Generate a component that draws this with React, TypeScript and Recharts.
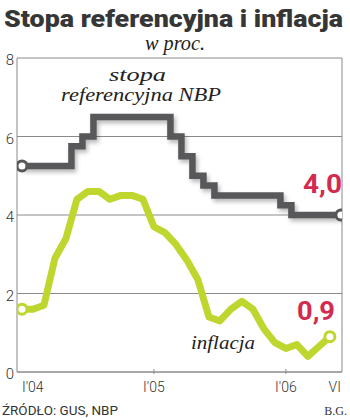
import React from 'react';
import { LineChart, Line, XAxis, YAxis, CartesianGrid, ReferenceLine } from 'recharts';

const monthIndex = [0,1,2,3,4,5,6,7,8,9,10,11,12,13,14,15,16,17,18,19,20,21,22,23,24,25,26,27,28,29];
const stopaRef = [5.25,5.25,5.25,5.25,5.25,5.75,6.0,6.5,6.5,6.5,6.5,6.5,6.5,6.5,6.0,5.5,5.0,4.75,4.5,4.5,4.5,4.5,4.5,4.5,4.25,4.0,4.0,4.0,4.0,4.0];
const inflacja: (number | null)[] = [1.6,1.6,1.7,2.9,3.4,4.4,4.6,4.6,4.4,4.5,4.5,4.4,3.7,3.55,3.25,2.85,2.35,1.4,1.3,1.6,1.8,1.6,1.1,0.75,0.6,0.7,0.4,0.65,0.9,null];
const xTicks = [0, 12, 24, 29];
const xTickLabels = ["I'04", "I'05", "I'06", 'VI'];
const yTicks = [0, 2, 4, 6, 8];

const data = monthIndex.map((m, i) => ({ m, stopa: stopaRef[i], infl: inflacja[i] }));

const GREY = '#58585a';
const GREEN = '#bfd62f';
const RED = '#d32a50';
const GRID = '#8a8a8a';

const lastIndex = (arr: (number | null)[]) => {
  let k = -1;
  arr.forEach((v, i) => { if (v !== null) k = i; });
  return k;
};

const makeDot = (color: string, last: number) => (props: any) => {
  const { cx, cy, index } = props;
  if ((index === 0 || index === last) && cx != null && cy != null) {
    return <circle key={`d${index}`} cx={cx} cy={cy} r={5} fill="#fff" stroke={color} strokeWidth={3} />;
  }
  return <g key={`d${index}`} />;
};

const XTick = (props: any) => {
  const { x, y, payload, index } = props;
  const i = xTicks.indexOf(payload.value);
  const label = xTickLabels[i];
  const anchor = i === 0 ? 'start' : i === xTicks.length - 1 ? 'end' : 'middle';
  const showMark = i === 1 || i === 2;
  return (
    <g key={`xt${index}`}>
      {showMark && <line x1={x} x2={x} y1={y - 3} y2={y + 2} stroke={GRID} strokeWidth={1} />}
      <text x={x} y={y + 20} textAnchor={anchor} fontFamily="Roboto" fontWeight={300} fontSize={14} fill="#333">{label}</text>
    </g>
  );
};

const YTick = (props: any) => {
  const { x, y, payload, index } = props;
  return (
    <text key={`yt${index}`} x={x} y={y + 7} textAnchor="end" fontFamily="Roboto" fontWeight={300} fontSize={15} fill="#333">{payload.value}</text>
  );
};

export default function App() {
  return (
    <div style={{ position: 'absolute', left: 0, top: 0, width: 350, height: 418, background: '#fff' }}>
      <style>{`.grey-line path { filter: drop-shadow(2px 3px 2px rgba(0,0,0,0.28)); }`}</style>
      <LineChart width={350} height={418} data={data} margin={{ top: 58, right: 8, bottom: 0, left: 0 }}>
        <CartesianGrid horizontal={true} vertical={false} stroke={GRID} strokeWidth={1} />
        <XAxis dataKey="m" type="number" domain={[-0.45, 29.1]} ticks={xTicks} tick={<XTick />} tickLine={false} tickSize={0} tickMargin={0} height={46} axisLine={{ stroke: GRID }} allowDataOverflow />
        <YAxis type="number" domain={[0, 8]} ticks={yTicks} tick={<YTick />} tickLine={false} tickSize={0} tickMargin={3} width={17} axisLine={{ stroke: GRID }} />
        <ReferenceLine x={29.1} stroke={GRID} strokeWidth={1} />
        <Line className="grey-line" type="step" dataKey="stopa" stroke={GREY} strokeWidth={6.5} dot={makeDot(GREY, stopaRef.length - 1)} activeDot={false} isAnimationActive={false} strokeLinejoin="miter" />
        <Line type="linear" dataKey="infl" stroke={GREEN} strokeWidth={7} dot={makeDot(GREEN, lastIndex(inflacja))} activeDot={false} isAnimationActive={false} connectNulls={false} strokeLinejoin="round" />
      </LineChart>
      <svg width={350} height={418} style={{ position: 'absolute', left: 0, top: 0, pointerEvents: 'none' }}>
        <text x={4} y={27} fontFamily="Roboto" fontWeight={900} fontSize={24} fill="#363636" textLength={339} lengthAdjust="spacingAndGlyphs">Stopa referencyjna i inflacja</text>
        <text x={145} y={50} fontFamily="Liberation Serif" fontStyle="italic" fontSize={20} fill="#222" textLength={60} lengthAdjust="spacingAndGlyphs">w proc.</text>
        <text x={109} y={81} fontFamily="Liberation Serif" fontStyle="italic" fontSize={18} fill="#222" textLength={57} lengthAdjust="spacingAndGlyphs">stopa</text>
        <text x={61} y={101} fontFamily="Liberation Serif" fontStyle="italic" fontSize={18} fill="#222" textLength={160} lengthAdjust="spacingAndGlyphs">referencyjna NBP</text>
        <text x={191} y={349} fontFamily="Liberation Serif" fontStyle="italic" fontSize={19} fill="#222" textLength={64} lengthAdjust="spacingAndGlyphs">inflacja</text>
        <text x={303} y={193} fontFamily="Roboto" fontWeight={700} fontSize={25} fill={RED} textLength={39} lengthAdjust="spacingAndGlyphs">4,0</text>
        <text x={297} y={320} fontFamily="Roboto" fontWeight={700} fontSize={25} fill={RED} textLength={38} lengthAdjust="spacingAndGlyphs">0,9</text>
        <text x={2} y={415} fontFamily="Roboto" fontWeight={400} fontSize={13} fill="#333" textLength={116} lengthAdjust="spacingAndGlyphs">ŹRÓDŁO: GUS, NBP</text>
        <text x={347} y={415} textAnchor="end" fontFamily="Liberation Serif" fontSize={12} fill="#333">B.G.</text>
      </svg>
    </div>
  );
}
